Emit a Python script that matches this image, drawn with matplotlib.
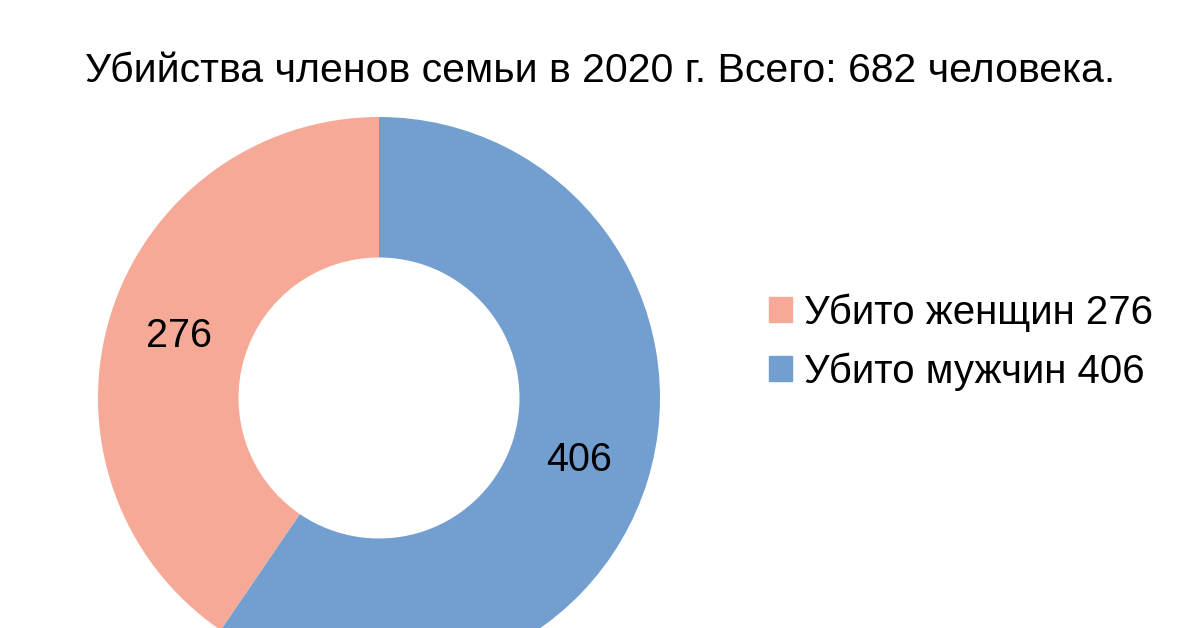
# Кольцевая диаграмма: убийства членов семьи в 2020 г.

import numpy as np
import matplotlib.pyplot as plt
from matplotlib.patches import Patch

labels = ['Убито мужчин 406', 'Убито женщин 276']
values = [406, 276]
colors = ['#729FCF', '#F6A996']

plt.rcParams['font.family'] = ['Liberation Sans', 'DejaVu Sans']

fig = plt.figure(figsize=(12, 6.28), dpi=100)

# центр кольца около (379, 398) px, внешний радиус 281 px
cx, cy, r = 379, 398, 281
ax = fig.add_axes([(cx - r) / 1200, (628 - cy - r) / 628, 2 * r / 1200, 2 * r / 628])

wedges, texts = ax.pie(
  values,
  colors=colors,
  startangle=90,
  counterclock=False,
  radius=1,
  wedgeprops=dict(width=0.5, edgecolor='none'),
)

# подписи значений посередине кольца
for w, v in zip(wedges, values):
  ang = np.deg2rad((w.theta1 + w.theta2) / 2)
  ax.text(0.745 * np.cos(ang), 0.745 * np.sin(ang), str(v),
          ha='center', va='center', fontsize=28.5, color='black')

ax.set_xlim(-1, 1)
ax.set_ylim(-1, 1)
ax.set_aspect('equal')
ax.axis('off')

fig.text(0.5, 1 - 71 / 628, 'Убийства членов семьи в 2020 г. Всего: 682 человека.',
         ha='center', va='center', fontsize=29.5)

handles = [Patch(color=colors[1]), Patch(color=colors[0])]
fig.legend(
  handles, [labels[1], labels[0]],
  loc='center left',
  bbox_to_anchor=(769 / 1200, 1 - 342 / 628),
  frameon=False,
  fontsize=29,
  borderpad=0,
  borderaxespad=0,
  handlelength=0.57,
  handleheight=0.57,
  handletextpad=0.3,
  labelspacing=0.5,
)

fig.savefig('out.png', dpi=100)
